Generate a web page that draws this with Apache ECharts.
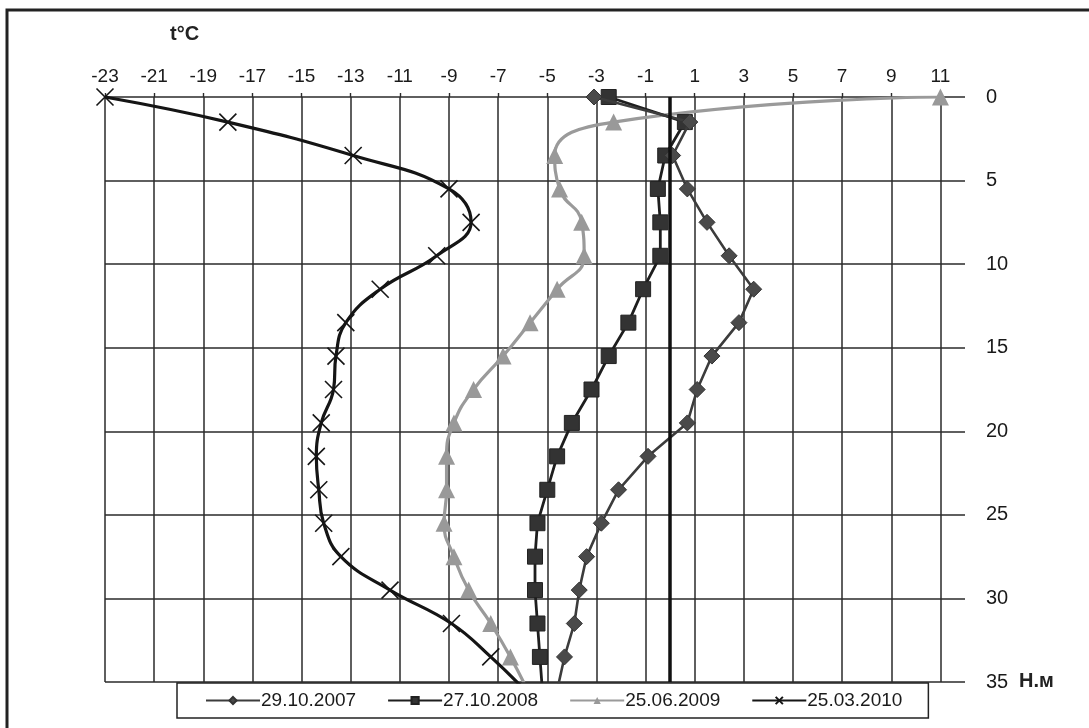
<!DOCTYPE html>
<html>
<head>
<meta charset="utf-8">
<script src="https://cdn.jsdelivr.net/npm/echarts@6/dist/echarts.min.js"></script>
<style>
html,body{margin:0;padding:0;background:#fff;}
#chart{width:1089px;height:728px;}
</style>
</head>
<body>
<div id="chart"></div>
<script>
// Depths (m) at which temperatures were measured
const depths = [0, 1.5, 3.5, 5.5, 7.5, 9.5, 11.5, 13.5, 15.5, 17.5, 19.5, 21.5, 23.5, 25.5, 27.5, 29.5, 31.5, 33.5, 35.5];
// Temperatures (°C)
const t2007 = [-3.1, 0.8, 0.1, 0.7, 1.5, 2.4, 3.4, 2.8, 1.7, 1.1, 0.7, -0.9, -2.1, -2.8, -3.4, -3.7, -3.9, -4.3, -4.6];
const t2008 = [-2.5, 0.6, -0.2, -0.5, -0.4, -0.4, -1.1, -1.7, -2.5, -3.2, -4.0, -4.6, -5.0, -5.4, -5.5, -5.5, -5.4, -5.3, -5.2];
const t2009 = [11, -2.3, -4.7, -4.5, -3.6, -3.5, -4.6, -5.7, -6.8, -8.0, -8.8, -9.1, -9.1, -9.2, -8.8, -8.2, -7.3, -6.5, -5.8];
const t2010 = [-23, -18.0, -12.9, -9.0, -8.1, -9.5, -11.8, -13.2, -13.6, -13.7, -14.2, -14.4, -14.3, -14.1, -13.4, -11.4, -8.9, -7.3, -5.9];
const seriesNames = ['29.10.2007', '27.10.2008', '25.06.2009', '25.03.2010'];
const xTitle = 't°C';
const yTitle = 'Н.м';

function pairs(vals) { return vals.map((v, i) => [v, depths[i]]); }

const FONT = '"Liberation Sans", Arial, sans-serif';
const chart = echarts.init(document.getElementById('chart'));

const option = {
  backgroundColor: '#fff',
  animation: false,
  textStyle: { fontFamily: FONT },
  grid: { left: 105, top: 97, right: 124, bottom: 46, containLabel: false },
  xAxis: {
    type: 'value', position: 'top', min: -23, max: 12, interval: 2,
    axisLine: { show: false },
    axisTick: { show: true, length: 4, lineStyle: { color: '#2a2a2a', width: 1.4 } },
    axisLabel: { color: '#1a1a1a', fontSize: 19, margin: 11, fontFamily: FONT, showMaxLabel: false },
    splitLine: { show: true, showMaxLine: false, lineStyle: { color: '#2a2a2a', width: 1.5 } }
  },
  yAxis: {
    type: 'value', position: 'right', inverse: true, min: 0, max: 35, interval: 5,
    axisLine: { show: false }, axisTick: { show: false },
    axisLabel: { color: '#1a1a1a', fontSize: 20, margin: 21, fontFamily: FONT },
    splitLine: { show: true, lineStyle: { color: '#2a2a2a', width: 1.5 } }
  },
  legend: {
    left: 177, top: 683, orient: 'horizontal',
    padding: [8, 26, 8, 28], itemGap: 31, itemWidth: 54, itemHeight: 9,
    borderColor: '#222', borderWidth: 1.5, backgroundColor: '#fff',
    textStyle: { color: '#1a1a1a', fontSize: 19, fontFamily: FONT, padding: [0, 0, 0, -4] },
    data: seriesNames
  },
  graphic: [
    { type: 'rect', shape: { x: 7, y: 10, width: 1100, height: 740 }, style: { fill: 'none', stroke: '#222', lineWidth: 3 }, z: 100, silent: true },
    { type: 'text', left: 170, top: 24, style: { text: xTitle, font: 'bold 20px ' + FONT, fill: '#222' } },
    { type: 'text', left: 1019, top: 671, style: { text: yTitle, font: 'bold 20px ' + FONT, fill: '#222' } }
  ],
  series: [
    {
      name: seriesNames[0], type: 'line', data: pairs(t2007), smooth: false,
      symbol: 'diamond', symbolSize: 16,
      lineStyle: { color: '#3c3c3c', width: 2.6 },
      itemStyle: { color: '#4a4a4a', borderColor: '#333', borderWidth: 1 },
      z: 4,
      markLine: {
        silent: true, symbol: 'none', label: { show: false },
        lineStyle: { color: '#111', width: 3.5, type: 'solid' },
        data: [{ xAxis: 0 }]
      }
    },
    {
      name: seriesNames[1], type: 'line', data: pairs(t2008), smooth: false,
      symbol: 'rect', symbolSize: 15,
      lineStyle: { color: '#1e1e1e', width: 2.8 },
      itemStyle: { color: '#333', borderColor: '#222', borderWidth: 1 },
      z: 3
    },
    {
      name: seriesNames[2], type: 'line', data: pairs(t2009), smooth: 0.5,
      symbol: 'triangle', symbolSize: 17,
      lineStyle: { color: '#9a9a9a', width: 3.2 },
      itemStyle: { color: '#999' },
      z: 2
    },
    {
      name: seriesNames[3], type: 'line', data: pairs(t2010), smooth: 0.45,
      symbol: 'path://M0,0 L10,10 M10,0 L0,10', symbolSize: 17,
      lineStyle: { color: '#151515', width: 3.2 },
      itemStyle: { color: '#151515', borderColor: '#151515', borderWidth: 1.6 },
      z: 5
    }
  ]
};
chart.setOption(option);
</script>
</body>
</html>
